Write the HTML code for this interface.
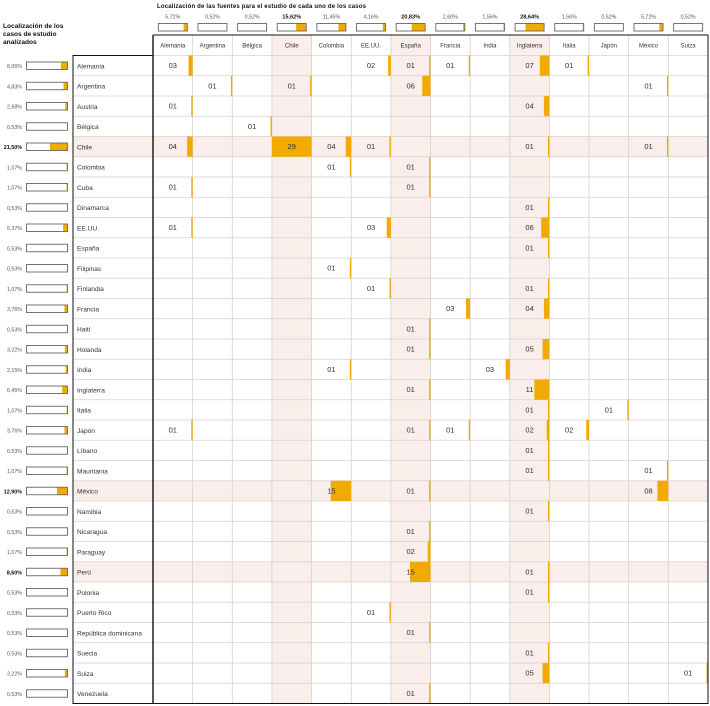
<!DOCTYPE html>
<html>
<head>
<meta charset="utf-8">
<style>
html,body{margin:0;padding:0;background:#fff;}
svg{display:block;}
text{font-family:"Liberation Sans",Arial,sans-serif;}
.tt{font-size:6px;font-weight:bold;fill:#111;}
.lt{font-size:6.6px;font-weight:bold;fill:#111;}
.tp{font-size:5.3px;fill:#555;text-anchor:middle;}
.tpb{font-size:5.6px;fill:#111;font-weight:bold;text-anchor:middle;}
.h{font-size:6px;fill:#333;text-anchor:middle;}
.p{font-size:5.3px;fill:#555;text-anchor:end;}
.pb{font-size:5.4px;fill:#111;font-weight:bold;text-anchor:end;}
.l{font-size:6.6px;fill:#333;}
.c{font-size:7.5px;fill:#333;text-anchor:middle;}
.o{fill:#f0aa00;}
.bx{fill:none;stroke:#666;stroke-width:0.9;}
</style>
</head>
<body>
<svg width="710" height="706" viewBox="0 0 710 706" xmlns="http://www.w3.org/2000/svg">
<rect x="0" y="0" width="710" height="706" fill="#fff"/>

<!-- titles -->
<text class="tt" x="157" y="8" textLength="209" lengthAdjust="spacing">Localización de las fuentes para el estudio de cada uno de los casos</text>
<text class="lt" x="3" y="27.8">Localización de los</text>
<text class="lt" x="3" y="35.8">casos de estudio</text>
<text class="lt" x="3" y="43.8">analizados</text>

<!-- top percent labels -->
<text class="tp" x="172.82" y="18.5">5,72%</text>
<text class="tp" x="212.46" y="18.5">0,52%</text>
<text class="tp" x="252.1" y="18.5">0,52%</text>
<text class="tpb" x="291.74" y="18.5">15,62%</text>
<text class="tp" x="331.38" y="18.5">11,45%</text>
<text class="tp" x="371.02" y="18.5">4,16%</text>
<text class="tpb" x="410.66" y="18.5">20,83%</text>
<text class="tp" x="450.3" y="18.5">2,60%</text>
<text class="tp" x="489.94" y="18.5">1,56%</text>
<text class="tpb" x="529.58" y="18.5">28,64%</text>
<text class="tp" x="569.22" y="18.5">1,56%</text>
<text class="tp" x="608.86" y="18.5">0,52%</text>
<text class="tp" x="648.5" y="18.5">5,72%</text>
<text class="tp" x="688.14" y="18.5">0,52%</text>

<!-- top boxes fills -->
<rect class="o" x="183.63" y="23.5" width="3.69" height="7.5"/>
<rect class="o" x="226.62" y="23.5" width="0.34" height="7.5"/>
<rect class="o" x="266.26" y="23.5" width="0.34" height="7.5"/>
<rect class="o" x="296.17" y="23.5" width="10.07" height="7.5"/>
<rect class="o" x="338.5" y="23.5" width="7.38" height="7.5"/>
<rect class="o" x="382.84" y="23.5" width="2.68" height="7.5"/>
<rect class="o" x="411.74" y="23.5" width="13.42" height="7.5"/>
<rect class="o" x="463.12" y="23.5" width="1.68" height="7.5"/>
<rect class="o" x="503.44" y="23.5" width="1.0" height="7.5"/>
<rect class="o" x="525.62" y="23.5" width="18.46" height="7.5"/>
<rect class="o" x="582.72" y="23.5" width="1.0" height="7.5"/>
<rect class="o" x="623.02" y="23.5" width="0.34" height="7.5"/>
<rect class="o" x="659.31" y="23.5" width="3.69" height="7.5"/>
<rect class="o" x="702.3" y="23.5" width="0.34" height="7.5"/>
<!-- top boxes -->
<rect class="bx" x="158.32" y="23.5" width="29" height="7.5"/>
<rect class="bx" x="197.96" y="23.5" width="29" height="7.5"/>
<rect class="bx" x="237.6" y="23.5" width="29" height="7.5"/>
<rect class="bx" x="277.24" y="23.5" width="29" height="7.5"/>
<rect class="bx" x="316.88" y="23.5" width="29" height="7.5"/>
<rect class="bx" x="356.52" y="23.5" width="29" height="7.5"/>
<rect class="bx" x="396.16" y="23.5" width="29" height="7.5"/>
<rect class="bx" x="435.8" y="23.5" width="29" height="7.5"/>
<rect class="bx" x="475.44" y="23.5" width="29" height="7.5"/>
<rect class="bx" x="515.08" y="23.5" width="29" height="7.5"/>
<rect class="bx" x="554.72" y="23.5" width="29" height="7.5"/>
<rect class="bx" x="594.36" y="23.5" width="29" height="7.5"/>
<rect class="bx" x="634.0" y="23.5" width="29" height="7.5"/>
<rect class="bx" x="673.64" y="23.5" width="29" height="7.5"/>

<!-- pink highlight columns -->
<rect x="271.92" y="35" width="39.64" height="668.5" fill="#f9eeea"/>
<rect x="390.84" y="35" width="39.64" height="668.5" fill="#f9eeea"/>
<rect x="509.76" y="35" width="39.64" height="668.5" fill="#f9eeea"/>
<!-- pink highlight rows -->
<rect x="73" y="136.5" width="635" height="20.25" fill="#f9eeea"/>
<rect x="73" y="480.75" width="635" height="20.25" fill="#f9eeea"/>
<rect x="73" y="561.75" width="635" height="20.25" fill="#f9eeea"/>

<!-- grid -->
<path fill="none" stroke="#d8d0cd" stroke-width="0.8" d="
M153 55.5H708 M73 75.75H708 M73 96H708 M73 116.25H708 M73 136.5H708 M73 156.75H708 M73 177H708 M73 197.25H708
M73 217.5H708 M73 237.75H708 M73 258H708 M73 278.25H708 M73 298.5H708 M73 318.75H708 M73 339H708 M73 359.25H708
M73 379.5H708 M73 399.75H708 M73 420H708 M73 440.25H708 M73 460.5H708 M73 480.75H708 M73 501H708 M73 521.25H708
M73 541.5H708 M73 561.75H708 M73 582H708 M73 602.25H708 M73 622.5H708 M73 642.75H708 M73 663H708 M73 683.25H708
M192.64 35V703.5 M232.28 35V703.5 M271.92 35V703.5 M311.56 35V703.5 M351.2 35V703.5 M390.84 35V703.5 M430.48 35V703.5
M470.12 35V703.5 M509.76 35V703.5 M549.4 35V703.5 M589.04 35V703.5 M628.68 35V703.5 M668.32 35V703.5"/>

<!-- header labels -->
<text class="h" x="172.82" y="47.5">Alemania</text>
<text class="h" x="212.46" y="47.5">Argentina</text>
<text class="h" x="252.1" y="47.5">Bélgica</text>
<text class="h" x="291.74" y="47.5">Chile</text>
<text class="h" x="331.38" y="47.5">Colombia</text>
<text class="h" x="371.02" y="47.5">EE.UU.</text>
<text class="h" x="410.66" y="47.5">España</text>
<text class="h" x="450.3" y="47.5">Francia</text>
<text class="h" x="489.94" y="47.5">India</text>
<text class="h" x="529.58" y="47.5">Inglaterra</text>
<text class="h" x="569.22" y="47.5">Italia</text>
<text class="h" x="608.86" y="47.5">Japón</text>
<text class="h" x="648.5" y="47.5">México</text>
<text class="h" x="688.14" y="47.5">Suiza</text>

<!-- rows -->
<g transform="translate(0,55.5)">
<text class="p" x="22" y="12.5">8,06%</text><rect class="o" x="60.9" y="6.5" width="6.6" height="7.5"/><rect class="bx" x="26.5" y="6.5" width="41" height="7.5"/>
<text class="l" x="77" y="12.8">Alemania</text>
<rect class="o" x="188.54" y="0" width="4.1" height="20.25"/><text class="c" x="172.82" y="12.7">03</text>
<rect class="o" x="388.11" y="0" width="2.73" height="20.25"/><text class="c" x="371.02" y="12.7">02</text>
<rect class="o" x="429.11" y="0" width="1.37" height="20.25"/><text class="c" x="410.66" y="12.7">01</text>
<rect class="o" x="468.75" y="0" width="1.37" height="20.25"/><text class="c" x="450.3" y="12.7">01</text>
<rect class="o" x="539.83" y="0" width="9.57" height="20.25"/><text class="c" x="529.58" y="12.7">07</text>
<rect class="o" x="587.67" y="0" width="1.37" height="20.25"/><text class="c" x="569.22" y="12.7">01</text>
</g>
<g transform="translate(0,75.75)">
<text class="p" x="22" y="12.5">4,83%</text><rect class="o" x="63.54" y="6.5" width="3.96" height="7.5"/><rect class="bx" x="26.5" y="6.5" width="41" height="7.5"/>
<text class="l" x="77" y="12.8">Argentina</text>
<rect class="o" x="230.91" y="0" width="1.37" height="20.25"/><text class="c" x="212.46" y="12.7">01</text>
<rect class="o" x="310.19" y="0" width="1.37" height="20.25"/><text class="c" x="291.74" y="12.7">01</text>
<rect class="o" x="422.28" y="0" width="8.2" height="20.25"/><text class="c" x="410.66" y="12.7">06</text>
<rect class="o" x="666.95" y="0" width="1.37" height="20.25"/><text class="c" x="648.5" y="12.7">01</text>
</g>
<g transform="translate(0,96)">
<text class="p" x="22" y="12.5">2,68%</text><rect class="o" x="65.3" y="6.5" width="2.2" height="7.5"/><rect class="bx" x="26.5" y="6.5" width="41" height="7.5"/>
<text class="l" x="77" y="12.8">Austria</text>
<rect class="o" x="191.27" y="0" width="1.37" height="20.25"/><text class="c" x="172.82" y="12.7">01</text>
<rect class="o" x="543.93" y="0" width="5.47" height="20.25"/><text class="c" x="529.58" y="12.7">04</text>
</g>
<g transform="translate(0,116.25)">
<text class="p" x="22" y="12.5">0,53%</text><rect class="o" x="67.07" y="6.5" width="0.43" height="7.5"/><rect class="bx" x="26.5" y="6.5" width="41" height="7.5"/>
<text class="l" x="77" y="12.8">Bélgica</text>
<rect class="o" x="270.55" y="0" width="1.37" height="20.25"/><text class="c" x="252.1" y="12.7">01</text>
</g>
<g transform="translate(0,136.5)">
<text class="pb" x="22" y="12.5">21,50%</text><rect class="o" x="49.9" y="6.5" width="17.6" height="7.5"/><rect class="bx" x="26.5" y="6.5" width="41" height="7.5"/>
<text class="l" x="77" y="12.8">Chile</text>
<rect class="o" x="187.17" y="0" width="5.47" height="20.25"/><text class="c" x="172.82" y="12.7">04</text>
<rect class="o" x="271.92" y="0" width="39.64" height="20.25"/><text class="c" x="291.74" y="12.7">29</text>
<rect class="o" x="345.73" y="0" width="5.47" height="20.25"/><text class="c" x="331.38" y="12.7">04</text>
<rect class="o" x="389.47" y="0" width="1.37" height="20.25"/><text class="c" x="371.02" y="12.7">01</text>
<rect class="o" x="548.03" y="0" width="1.37" height="20.25"/><text class="c" x="529.58" y="12.7">01</text>
<rect class="o" x="666.95" y="0" width="1.37" height="20.25"/><text class="c" x="648.5" y="12.7">01</text>
</g>
<g transform="translate(0,156.75)">
<text class="p" x="22" y="12.5">1,07%</text><rect class="o" x="66.62" y="6.5" width="0.88" height="7.5"/><rect class="bx" x="26.5" y="6.5" width="41" height="7.5"/>
<text class="l" x="77" y="12.8">Colombia</text>
<rect class="o" x="349.83" y="0" width="1.37" height="20.25"/><text class="c" x="331.38" y="12.7">01</text>
<rect class="o" x="429.11" y="0" width="1.37" height="20.25"/><text class="c" x="410.66" y="12.7">01</text>
</g>
<g transform="translate(0,177)">
<text class="p" x="22" y="12.5">1,07%</text><rect class="o" x="66.62" y="6.5" width="0.88" height="7.5"/><rect class="bx" x="26.5" y="6.5" width="41" height="7.5"/>
<text class="l" x="77" y="12.8">Cuba</text>
<rect class="o" x="191.27" y="0" width="1.37" height="20.25"/><text class="c" x="172.82" y="12.7">01</text>
<rect class="o" x="429.11" y="0" width="1.37" height="20.25"/><text class="c" x="410.66" y="12.7">01</text>
</g>
<g transform="translate(0,197.25)">
<text class="p" x="22" y="12.5">0,53%</text><rect class="o" x="67.07" y="6.5" width="0.43" height="7.5"/><rect class="bx" x="26.5" y="6.5" width="41" height="7.5"/>
<text class="l" x="77" y="12.8">Dinamarca</text>
<rect class="o" x="548.03" y="0" width="1.37" height="20.25"/><text class="c" x="529.58" y="12.7">01</text>
</g>
<g transform="translate(0,217.5)">
<text class="p" x="22" y="12.5">5,37%</text><rect class="o" x="63.1" y="6.5" width="4.4" height="7.5"/><rect class="bx" x="26.5" y="6.5" width="41" height="7.5"/>
<text class="l" x="77" y="12.8">EE.UU.</text>
<rect class="o" x="191.27" y="0" width="1.37" height="20.25"/><text class="c" x="172.82" y="12.7">01</text>
<rect class="o" x="386.74" y="0" width="4.1" height="20.25"/><text class="c" x="371.02" y="12.7">03</text>
<rect class="o" x="541.2" y="0" width="8.2" height="20.25"/><text class="c" x="529.58" y="12.7">06</text>
</g>
<g transform="translate(0,237.75)">
<text class="p" x="22" y="12.5">0,53%</text><rect class="o" x="67.07" y="6.5" width="0.43" height="7.5"/><rect class="bx" x="26.5" y="6.5" width="41" height="7.5"/>
<text class="l" x="77" y="12.8">España</text>
<rect class="o" x="548.03" y="0" width="1.37" height="20.25"/><text class="c" x="529.58" y="12.7">01</text>
</g>
<g transform="translate(0,258)">
<text class="p" x="22" y="12.5">0,53%</text><rect class="o" x="67.07" y="6.5" width="0.43" height="7.5"/><rect class="bx" x="26.5" y="6.5" width="41" height="7.5"/>
<text class="l" x="77" y="12.8">Filipinas</text>
<rect class="o" x="349.83" y="0" width="1.37" height="20.25"/><text class="c" x="331.38" y="12.7">01</text>
</g>
<g transform="translate(0,278.25)">
<text class="p" x="22" y="12.5">1,07%</text><rect class="o" x="66.62" y="6.5" width="0.88" height="7.5"/><rect class="bx" x="26.5" y="6.5" width="41" height="7.5"/>
<text class="l" x="77" y="12.8">Finlandia</text>
<rect class="o" x="389.47" y="0" width="1.37" height="20.25"/><text class="c" x="371.02" y="12.7">01</text>
<rect class="o" x="548.03" y="0" width="1.37" height="20.25"/><text class="c" x="529.58" y="12.7">01</text>
</g>
<g transform="translate(0,298.5)">
<text class="p" x="22" y="12.5">3,76%</text><rect class="o" x="64.42" y="6.5" width="3.08" height="7.5"/><rect class="bx" x="26.5" y="6.5" width="41" height="7.5"/>
<text class="l" x="77" y="12.8">Francia</text>
<rect class="o" x="466.02" y="0" width="4.1" height="20.25"/><text class="c" x="450.3" y="12.7">03</text>
<rect class="o" x="543.93" y="0" width="5.47" height="20.25"/><text class="c" x="529.58" y="12.7">04</text>
</g>
<g transform="translate(0,318.75)">
<text class="p" x="22" y="12.5">0,53%</text><rect class="o" x="67.07" y="6.5" width="0.43" height="7.5"/><rect class="bx" x="26.5" y="6.5" width="41" height="7.5"/>
<text class="l" x="77" y="12.8">Haití</text>
<rect class="o" x="429.11" y="0" width="1.37" height="20.25"/><text class="c" x="410.66" y="12.7">01</text>
</g>
<g transform="translate(0,339)">
<text class="p" x="22" y="12.5">3,22%</text><rect class="o" x="64.86" y="6.5" width="2.64" height="7.5"/><rect class="bx" x="26.5" y="6.5" width="41" height="7.5"/>
<text class="l" x="77" y="12.8">Holanda</text>
<rect class="o" x="429.11" y="0" width="1.37" height="20.25"/><text class="c" x="410.66" y="12.7">01</text>
<rect class="o" x="542.57" y="0" width="6.83" height="20.25"/><text class="c" x="529.58" y="12.7">05</text>
</g>
<g transform="translate(0,359.25)">
<text class="p" x="22" y="12.5">2,15%</text><rect class="o" x="65.74" y="6.5" width="1.76" height="7.5"/><rect class="bx" x="26.5" y="6.5" width="41" height="7.5"/>
<text class="l" x="77" y="12.8">India</text>
<rect class="o" x="349.83" y="0" width="1.37" height="20.25"/><text class="c" x="331.38" y="12.7">01</text>
<rect class="o" x="505.66" y="0" width="4.1" height="20.25"/><text class="c" x="489.94" y="12.7">03</text>
</g>
<g transform="translate(0,379.5)">
<text class="p" x="22" y="12.5">6,45%</text><rect class="o" x="62.21" y="6.5" width="5.29" height="7.5"/><rect class="bx" x="26.5" y="6.5" width="41" height="7.5"/>
<text class="l" x="77" y="12.8">Inglaterra</text>
<rect class="o" x="429.11" y="0" width="1.37" height="20.25"/><text class="c" x="410.66" y="12.7">01</text>
<rect class="o" x="534.36" y="0" width="15.04" height="20.25"/><text class="c" x="529.58" y="12.7">11</text>
</g>
<g transform="translate(0,399.75)">
<text class="p" x="22" y="12.5">1,07%</text><rect class="o" x="66.62" y="6.5" width="0.88" height="7.5"/><rect class="bx" x="26.5" y="6.5" width="41" height="7.5"/>
<text class="l" x="77" y="12.8">Italia</text>
<rect class="o" x="548.03" y="0" width="1.37" height="20.25"/><text class="c" x="529.58" y="12.7">01</text>
<rect class="o" x="627.31" y="0" width="1.37" height="20.25"/><text class="c" x="608.86" y="12.7">01</text>
</g>
<g transform="translate(0,420)">
<text class="p" x="22" y="12.5">3,76%</text><rect class="o" x="64.42" y="6.5" width="3.08" height="7.5"/><rect class="bx" x="26.5" y="6.5" width="41" height="7.5"/>
<text class="l" x="77" y="12.8">Japón</text>
<rect class="o" x="191.27" y="0" width="1.37" height="20.25"/><text class="c" x="172.82" y="12.7">01</text>
<rect class="o" x="429.11" y="0" width="1.37" height="20.25"/><text class="c" x="410.66" y="12.7">01</text>
<rect class="o" x="468.75" y="0" width="1.37" height="20.25"/><text class="c" x="450.3" y="12.7">01</text>
<rect class="o" x="546.67" y="0" width="2.73" height="20.25"/><text class="c" x="529.58" y="12.7">02</text>
<rect class="o" x="586.31" y="0" width="2.73" height="20.25"/><text class="c" x="569.22" y="12.7">02</text>
</g>
<g transform="translate(0,440.25)">
<text class="p" x="22" y="12.5">0,53%</text><rect class="o" x="67.07" y="6.5" width="0.43" height="7.5"/><rect class="bx" x="26.5" y="6.5" width="41" height="7.5"/>
<text class="l" x="77" y="12.8">Líbano</text>
<rect class="o" x="548.03" y="0" width="1.37" height="20.25"/><text class="c" x="529.58" y="12.7">01</text>
</g>
<g transform="translate(0,460.5)">
<text class="p" x="22" y="12.5">1,07%</text><rect class="o" x="66.62" y="6.5" width="0.88" height="7.5"/><rect class="bx" x="26.5" y="6.5" width="41" height="7.5"/>
<text class="l" x="77" y="12.8">Mauritania</text>
<rect class="o" x="548.03" y="0" width="1.37" height="20.25"/><text class="c" x="529.58" y="12.7">01</text>
<rect class="o" x="666.95" y="0" width="1.37" height="20.25"/><text class="c" x="648.5" y="12.7">01</text>
</g>
<g transform="translate(0,480.75)">
<text class="pb" x="22" y="12.5">12,90%</text><rect class="o" x="56.92" y="6.5" width="10.58" height="7.5"/><rect class="bx" x="26.5" y="6.5" width="41" height="7.5"/>
<text class="l" x="77" y="12.8">México</text>
<rect class="o" x="330.7" y="0" width="20.5" height="20.25"/><text class="c" x="331.38" y="12.7">15</text>
<rect class="o" x="429.11" y="0" width="1.37" height="20.25"/><text class="c" x="410.66" y="12.7">01</text>
<rect class="o" x="657.39" y="0" width="10.93" height="20.25"/><text class="c" x="648.5" y="12.7">08</text>
</g>
<g transform="translate(0,501)">
<text class="p" x="22" y="12.5">0,53%</text><rect class="o" x="67.07" y="6.5" width="0.43" height="7.5"/><rect class="bx" x="26.5" y="6.5" width="41" height="7.5"/>
<text class="l" x="77" y="12.8">Namibia</text>
<rect class="o" x="548.03" y="0" width="1.37" height="20.25"/><text class="c" x="529.58" y="12.7">01</text>
</g>
<g transform="translate(0,521.25)">
<text class="p" x="22" y="12.5">0,53%</text><rect class="o" x="67.07" y="6.5" width="0.43" height="7.5"/><rect class="bx" x="26.5" y="6.5" width="41" height="7.5"/>
<text class="l" x="77" y="12.8">Nicaragua</text>
<rect class="o" x="429.11" y="0" width="1.37" height="20.25"/><text class="c" x="410.66" y="12.7">01</text>
</g>
<g transform="translate(0,541.5)">
<text class="p" x="22" y="12.5">1,07%</text><rect class="o" x="66.62" y="6.5" width="0.88" height="7.5"/><rect class="bx" x="26.5" y="6.5" width="41" height="7.5"/>
<text class="l" x="77" y="12.8">Paraguay</text>
<rect class="o" x="427.75" y="0" width="2.73" height="20.25"/><text class="c" x="410.66" y="12.7">02</text>
</g>
<g transform="translate(0,561.75)">
<text class="pb" x="22" y="12.5">8,60%</text><rect class="o" x="60.45" y="6.5" width="7.05" height="7.5"/><rect class="bx" x="26.5" y="6.5" width="41" height="7.5"/>
<text class="l" x="77" y="12.8">Perú</text>
<rect class="o" x="409.98" y="0" width="20.5" height="20.25"/><text class="c" x="410.66" y="12.7">15</text>
<rect class="o" x="548.03" y="0" width="1.37" height="20.25"/><text class="c" x="529.58" y="12.7">01</text>
</g>
<g transform="translate(0,582)">
<text class="p" x="22" y="12.5">0,53%</text><rect class="o" x="67.07" y="6.5" width="0.43" height="7.5"/><rect class="bx" x="26.5" y="6.5" width="41" height="7.5"/>
<text class="l" x="77" y="12.8">Polonia</text>
<rect class="o" x="548.03" y="0" width="1.37" height="20.25"/><text class="c" x="529.58" y="12.7">01</text>
</g>
<g transform="translate(0,602.25)">
<text class="p" x="22" y="12.5">0,53%</text><rect class="o" x="67.07" y="6.5" width="0.43" height="7.5"/><rect class="bx" x="26.5" y="6.5" width="41" height="7.5"/>
<text class="l" x="77" y="12.8">Puerto Rico</text>
<rect class="o" x="389.47" y="0" width="1.37" height="20.25"/><text class="c" x="371.02" y="12.7">01</text>
</g>
<g transform="translate(0,622.5)">
<text class="p" x="22" y="12.5">0,53%</text><rect class="o" x="67.07" y="6.5" width="0.43" height="7.5"/><rect class="bx" x="26.5" y="6.5" width="41" height="7.5"/>
<text class="l" x="77" y="12.8">República dominicana</text>
<rect class="o" x="429.11" y="0" width="1.37" height="20.25"/><text class="c" x="410.66" y="12.7">01</text>
</g>
<g transform="translate(0,642.75)">
<text class="p" x="22" y="12.5">0,53%</text><rect class="o" x="67.07" y="6.5" width="0.43" height="7.5"/><rect class="bx" x="26.5" y="6.5" width="41" height="7.5"/>
<text class="l" x="77" y="12.8">Suecia</text>
<rect class="o" x="548.03" y="0" width="1.37" height="20.25"/><text class="c" x="529.58" y="12.7">01</text>
</g>
<g transform="translate(0,663)">
<text class="p" x="22" y="12.5">3,22%</text><rect class="o" x="64.86" y="6.5" width="2.64" height="7.5"/><rect class="bx" x="26.5" y="6.5" width="41" height="7.5"/>
<text class="l" x="77" y="12.8">Suiza</text>
<rect class="o" x="542.57" y="0" width="6.83" height="20.25"/><text class="c" x="529.58" y="12.7">05</text>
<rect class="o" x="706.59" y="0" width="1.37" height="20.25"/><text class="c" x="688.14" y="12.7">01</text>
</g>
<g transform="translate(0,683.25)">
<text class="p" x="22" y="12.5">0,53%</text><rect class="o" x="67.07" y="6.5" width="0.43" height="7.5"/><rect class="bx" x="26.5" y="6.5" width="41" height="7.5"/>
<text class="l" x="77" y="12.8">Venezuela</text>
<rect class="o" x="429.11" y="0" width="1.37" height="20.25"/><text class="c" x="410.66" y="12.7">01</text>
</g>

<!-- black borders -->
<path fill="none" stroke="#111" stroke-width="1" d="M153 35H708V703.5H73V55.5H153"/>
<path fill="none" stroke="#111" stroke-width="1.4" d="M153 35V703.5"/>
</svg>
</body>
</html>
